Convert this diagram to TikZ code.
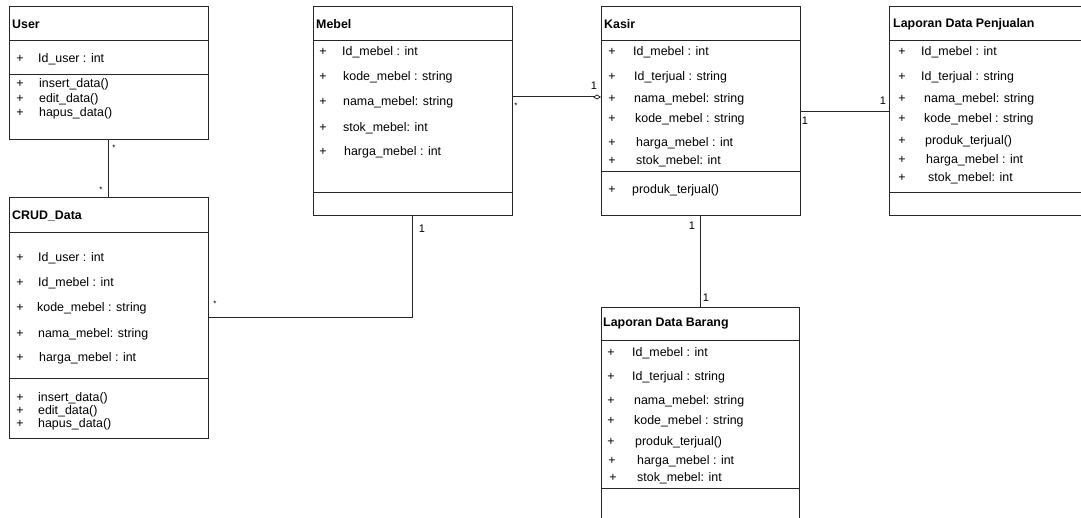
\documentclass[tikz,border=0pt]{standalone}
\usepackage{fontspec}
\setmainfont{Liberation Sans}
\usetikzlibrary{arrows.meta}
\begin{document}
\begin{tikzpicture}[x=1pt,y=-1pt,
  cls/.style={draw=black!85,line width=1pt,inner sep=0pt,outer sep=0pt,anchor=north west,rectangle},
  sep/.style={draw=black!85,line width=1pt},
  conn/.style={draw=black!85,line width=1pt},
  ttl/.style={font=\fontsize{12.4}{14}\selectfont\bfseries,anchor=west,inner sep=0pt},
  txt/.style={font=\fontsize{12.4}{14}\selectfont,anchor=west,inner sep=0pt},
  pl/.style={font=\fontsize{12.4}{14}\selectfont,anchor=center,inner sep=0pt},
  mult/.style={font=\fontsize{11}{13}\selectfont,anchor=center,inner sep=0pt},
  star/.style={font=\fontsize{8}{9}\selectfont,anchor=center,inner sep=0pt}]
\useasboundingbox (0,0) rectangle (1081,518);
\clip (0,0) rectangle (1081,518);
\fill[white] (0,0) rectangle (1081,518);

% ---------- User ----------
\node[cls,minimum width=199pt,minimum height=133pt] (user) at (9,7) {};
\draw[sep] (9,41) -- (208,41);
\draw[sep] (9,75) -- (208,75);
\node[ttl] (userT) at (12,24) {User};
\node[pl] (up1) at (20,59) {+}; \node[txt] (ua1) at (38,59) {Id\_user : int};
\node[pl] (up2) at (20,84) {+}; \node[txt] (um1) at (39,84) {insert\_data()};
\node[pl] (up3) at (20,99) {+}; \node[txt] (um2) at (39,99) {edit\_data()};
\node[pl] (up4) at (20,113) {+}; \node[txt] (um3) at (39,113) {hapus\_data()};

% ---------- CRUD_Data ----------
\node[cls,minimum width=199pt,minimum height=240pt] (crud) at (9,198) {};
\draw[sep] (9,233) -- (208,233);
\draw[sep] (9,378) -- (208,378);
\node[ttl] (crudT) at (12,216) {CRUD\_Data};
\node[pl] (cp1) at (20,258) {+}; \node[txt] (ca1) at (38,258) {Id\_user : int};
\node[pl] (cp2) at (20,283) {+}; \node[txt] (ca2) at (38,283) {Id\_mebel : int};
\node[pl] (cp3) at (20,308) {+}; \node[txt] (ca3) at (37,308) {kode\_mebel : string};
\node[pl] (cp4) at (20,334) {+}; \node[txt] (ca4) at (38,334) {nama\_mebel: string};
\node[pl] (cp5) at (20,358) {+}; \node[txt] (ca5) at (39,358) {harga\_mebel : int};
\node[pl] (cp6) at (20,398) {+}; \node[txt] (cm1) at (38,398) {insert\_data()};
\node[pl] (cp7) at (20,411) {+}; \node[txt] (cm2) at (38,411) {edit\_data()};
\node[pl] (cp8) at (20,424) {+}; \node[txt] (cm3) at (38,424) {hapus\_data()};

% ---------- Mebel ----------
\node[cls,minimum width=199pt,minimum height=209pt] (mebel) at (313,7) {};
\draw[sep] (313,41) -- (512,41);
\draw[sep] (313,193) -- (512,193);
\node[ttl] (mebelT) at (316,24) {Mebel};
\node[pl] (mp1) at (323,52) {+}; \node[txt] (ma1) at (342,52) {Id\_mebel : int};
\node[pl] (mp2) at (323,77) {+}; \node[txt] (ma2) at (343,77) {kode\_mebel : string};
\node[pl] (mp3) at (323,102) {+}; \node[txt] (ma3) at (343,102) {nama\_mebel: string};
\node[pl] (mp4) at (323,128) {+}; \node[txt] (ma4) at (343,128) {stok\_mebel: int};
\node[pl] (mp5) at (323,152) {+}; \node[txt] (ma5) at (344,152) {harga\_mebel : int};

% ---------- Kasir ----------
\node[cls,minimum width=199pt,minimum height=209pt] (kasir) at (601,7) {};
\draw[sep] (601,41) -- (800,41);
\draw[sep] (601,172) -- (800,172);
\node[ttl] (kasirT) at (604,24) {Kasir};
\node[pl] (kp1) at (612,52) {+}; \node[txt] (ka1) at (633,52) {Id\_mebel : int};
\node[pl] (kp2) at (612,77) {+}; \node[txt] (ka2) at (634,77) {Id\_terjual : string};
\node[pl] (kp3) at (612,99) {+}; \node[txt] (ka3) at (634,99) {nama\_mebel: string};
\node[pl] (kp4) at (612,119) {+}; \node[txt] (ka4) at (635,119) {kode\_mebel : string};
\node[pl] (kp5) at (612,143) {+}; \node[txt] (ka5) at (636,143) {harga\_mebel : int};
\node[pl] (kp6) at (612,161) {+}; \node[txt] (ka6) at (636,161) {stok\_mebel: int};
\node[pl] (kp7) at (612,190) {+}; \node[txt] (km1) at (632,190) {produk\_terjual()};

% ---------- Laporan Data Penjualan ----------
\node[cls,minimum width=199pt,minimum height=209pt] (penj) at (889,7) {};
\draw[sep] (889,41) -- (1090,41);
\draw[sep] (889,193) -- (1090,193);
\node[ttl] (penjT) at (893,24) {Laporan Data Penjualan};
\node[pl] (jp1) at (902,52) {+}; \node[txt] (ja1) at (921,52) {Id\_mebel : int};
\node[pl] (jp2) at (902,77) {+}; \node[txt] (ja2) at (921,77) {Id\_terjual : string};
\node[pl] (jp3) at (902,99) {+}; \node[txt] (ja3) at (924,99) {nama\_mebel: string};
\node[pl] (jp4) at (902,119) {+}; \node[txt] (ja4) at (924,119) {kode\_mebel : string};
\node[pl] (jp5) at (902,141) {+}; \node[txt] (ja5) at (925,141) {produk\_terjual()};
\node[pl] (jp6) at (902,160) {+}; \node[txt] (ja6) at (926,160) {harga\_mebel : int};
\node[pl] (jp7) at (902,178) {+}; \node[txt] (ja7) at (928,178) {stok\_mebel: int};

% ---------- Laporan Data Barang ----------
\node[cls,minimum width=198pt,minimum height=222pt] (barang) at (601,308) {};
\draw[sep] (601,341) -- (799,341);
\draw[sep] (601,488) -- (799,488);
\node[ttl] (barangT) at (603,324) {Laporan Data Barang};
\node[pl] (bp1) at (611,353) {+}; \node[txt] (ba1) at (632,353) {Id\_mebel : int};
\node[pl] (bp2) at (611,377) {+}; \node[txt] (ba2) at (632,377) {Id\_terjual : string};
\node[pl] (bp3) at (611,401) {+}; \node[txt] (ba3) at (634,401) {nama\_mebel: string};
\node[pl] (bp4) at (611,421) {+}; \node[txt] (ba4) at (634,421) {kode\_mebel : string};
\node[pl] (bp5) at (611,442) {+}; \node[txt] (ba5) at (635,442) {produk\_terjual()};
\node[pl] (bp6) at (612,461) {+}; \node[txt] (ba6) at (637,461) {harga\_mebel : int};
\node[pl] (bp7) at (613,478) {+}; \node[txt] (ba7) at (637,478) {stok\_mebel: int};

% ---------- Connectors ----------
\draw[conn] (user.south) -- (crud.north);
\node[star] (s1) at (114,148) {*};
\node[star] (s2) at (101,190) {*};

\draw[conn] (crud.east) -| (mebel.south);
\node[star] (s3) at (215,304) {*};
\node[mult] (m1) at (422,229) {1};

\coordinate (mky) at (0,97);
\draw[conn,-{Diamond[open,length=8pt,width=5pt,line width=0.8pt]}] (mebel.east |- mky) -- (kasir.west |- mky);
\node[star] (s4) at (516,106) {*};
\node[mult] (m2) at (594,86) {1};

\draw[conn] (kasir.east) -- (penj.west |- kasir.east);
\node[mult] (m3) at (805,121) {1};
\node[mult] (m4) at (883,101) {1};

\draw[conn] (kasir.south) -- (barang.north -| kasir.south);
\node[mult] (m5) at (692,226) {1};
\node[mult] (m6) at (706,298) {1};
\end{tikzpicture}
\end{document}
